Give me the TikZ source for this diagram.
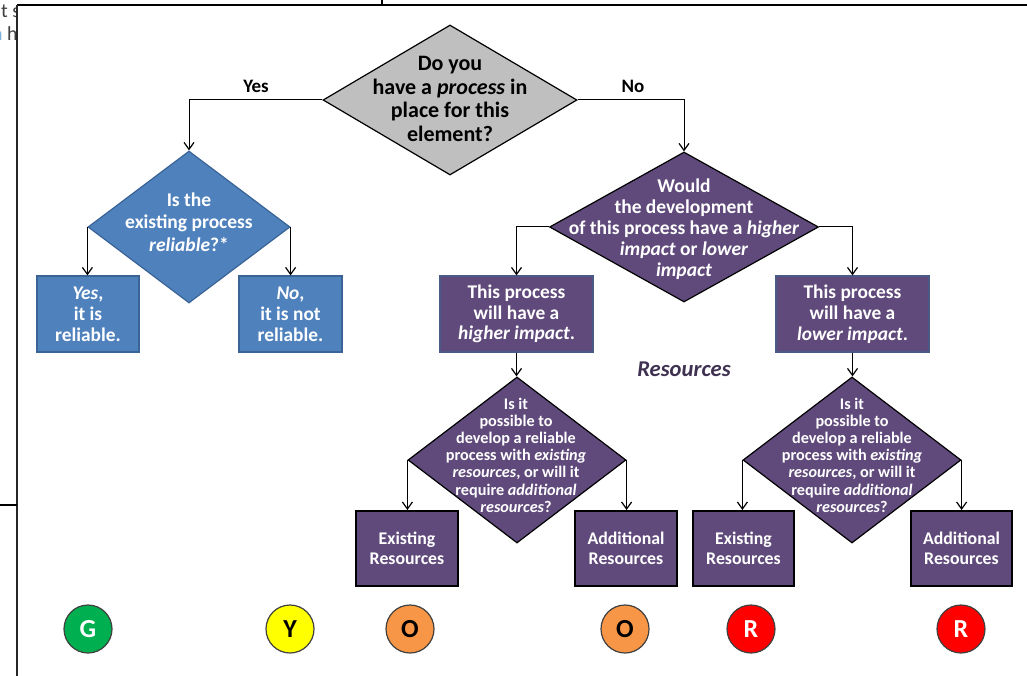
\documentclass[tikz,border=0pt]{standalone}
\usepackage{fontspec}
\setmainfont{Carlito}
\usetikzlibrary{shapes.geometric,arrows.meta}
\definecolor{blueF}{HTML}{4F81BD}
\definecolor{blueD}{HTML}{3A6496}
\definecolor{purF}{HTML}{604A7B}
\definecolor{purD}{HTML}{4A5A86}
\definecolor{grayF}{HTML}{BFBFBF}
\definecolor{resC}{HTML}{3F3151}
\definecolor{gC}{HTML}{00B050}
\definecolor{yC}{HTML}{FFFF00}
\definecolor{oC}{HTML}{F79646}
\definecolor{rC}{HTML}{FF0000}
\definecolor{fragB}{HTML}{7FB2D9}
\tikzset{
  fs/.style 2 args={font=\fontsize{#1}{#2}\selectfont\bfseries},
  dia/.style={diamond, inner sep=0pt, draw=black, line width=1.2pt},
  txt/.style={align=center, inner sep=0pt},
  bluebox/.style={rectangle, fill=blueF, draw=blueD, line width=1.2pt, inner sep=0pt, text=white, align=center},
  impbox/.style={rectangle, fill=purF, draw=purD, line width=1.2pt, inner sep=0pt, text=white, align=center},
  resbox/.style={rectangle, fill=purF, draw=black, line width=2pt, inner sep=0pt, text=white, align=center, minimum width=102pt, minimum height=75pt},
  arr/.style={-{Straight Barb[length=7pt,width=10pt,line width=1.2pt]}, line width=1pt, black},
  dot/.style={circle, minimum size=48pt, inner sep=0pt, draw=black!75, line width=1.2pt, font=\fontsize{26}{28}\selectfont\bfseries},
  yn/.style={font=\fontsize{19}{21}\selectfont\bfseries, inner sep=0pt}
}
\begin{document}
\begin{tikzpicture}[x=1pt,y=-1pt]
\useasboundingbox (0,0) rectangle (1027,676);
% frame remnants
\begin{scope}
\clip (0,0) rectangle (16,46);
\node[inner sep=0pt, anchor=west, text=black!75, font=\fontsize{20}{22}\selectfont] (frag1) at (1,11) {t s};
\node[inner sep=0pt, anchor=west, font=\fontsize{20}{22}\selectfont] (frag2) at (-8,34) {\textcolor{fragB}{n} \textcolor{black!75}{h}};
\end{scope}
\draw[line width=2pt] (17,5) -- (1027,5);
\draw[line width=2pt, black!85] (17,5) -- (17,676);
\draw[line width=2pt] (0,505) -- (17,505);
\draw[line width=1.2pt] (382,0) -- (382,5);

% diamonds
\node[dia, fill=grayF, minimum width=254pt, minimum height=150pt] (d0) at (450,100) {};
\node[txt, fs={22}{23.5}] (t0) at (450,99) {Do you\\have a \textit{process} in\\place for this\\element?};

\node[dia, fill=blueF, draw=blueD, minimum width=202pt, minimum height=152pt] (d1) at (189,227) {};
\node[txt, fs={19.5}{22.5}, text=white] (t1) at (189,222) {Is the\\existing process\\\textit{reliable}?*};

\node[dia, fill=purF, minimum width=269pt, minimum height=150pt] (d2) at (684,227) {};
\node[txt, fs={19.5}{21}, text=white] (t2) at (684,229) {Would\\the development\\of this process have a \textit{higher}\\\textit{impact} or \textit{lower}\\\textit{impact}};

\node[dia, fill=purF, minimum width=218pt, minimum height=166pt] (d3) at (517,460) {};
\node[txt, fs={16.2}{17.2}, text=white] (t3) at (516,455) {Is it\\possible to\\develop a reliable\\process with \textit{existing}\\\textit{resources}, or will it\\require \textit{additional}\\\textit{resources}?};

\node[dia, fill=purF, minimum width=218pt, minimum height=166pt] (d4) at (852,460) {};
\node[txt, fs={16.2}{17.2}, text=white] (t4) at (852,455) {Is it\\possible to\\develop a reliable\\process with \textit{existing}\\\textit{resources}, or will it\\require \textit{additional}\\\textit{resources}?};

% boxes
\node[bluebox, fs={19.4}{20.8}, minimum width=102pt, minimum height=76pt] (b1) at (88,314) {\textit{Yes},\\it is\\reliable.};
\node[bluebox, fs={19.4}{20.8}, minimum width=103pt, minimum height=76pt] (b2) at (290.5,314) {\textit{No},\\it is not\\reliable.};
\node[impbox, fs={19.4}{20.8}, minimum width=153pt, minimum height=76pt] (b3) at (516.5,314) {This process\\will have a\\\textit{higher impact}.};
\node[impbox, fs={19.4}{20.8}, minimum width=153pt, minimum height=76pt] (b4) at (852.5,314) {This process\\will have a\\\textit{lower impact}.};

\node[resbox, fs={17.8}{20.5}] (e1) at (407,548.5) {Existing\\Resources};
\node[resbox, fs={17.8}{20.5}] (a1) at (626,548.5) {Additional\\Resources};
\node[resbox, fs={17.8}{20.5}, minimum width=101pt] (e2) at (743.5,548.5) {Existing\\Resources};
\node[resbox, fs={17.8}{20.5}, minimum width=101pt] (a2) at (961.5,548.5) {Additional\\Resources};

% labels
\node[yn] (yes) at (256,86) {Yes};
\node[yn] (no) at (633,86) {No};
\node[inner sep=0pt, text=resC, font=\fontsize{22.6}{24}\selectfont\bfseries\itshape] (res) at (684,369) {Resources};

% connectors
\draw[arr] (d0.west) -| (d1.north);
\draw[arr] (d0.east) -| (d2.north);
\draw[arr] (d1.west) -- (d1.west |- b1.north);
\draw[arr] (d1.east) -- (d1.east |- b2.north);
\draw[arr] (d2.west) -| (b3.north);
\draw[arr] (d2.east) -| (b4.north);
\draw[arr] (b3.south) -- (b3.south |- d3.north);
\draw[arr] (b4.south) -- (b4.south |- d4.north);
\draw[arr] (d3.west) -- (d3.west |- e1.north);
\draw[arr] (d3.east) -- (d3.east |- a1.north);
\draw[arr] (d4.west) -- (d4.west |- e2.north);
\draw[arr] (d4.east) -- (d4.east |- a2.north);

% rating circles
\node[dot, fill=gC, text=white] (cG) at (88,629) {G};
\node[dot, fill=yC, text=black] (cY) at (290,629) {Y};
\node[dot, fill=oC, text=black] (cO1) at (410,629) {O};
\node[dot, fill=oC, text=black] (cO2) at (625,629) {O};
\node[dot, fill=rC, text=white] (cR1) at (751,629) {R};
\node[dot, fill=rC, text=white] (cR2) at (961,629) {R};
\end{tikzpicture}
\end{document}
